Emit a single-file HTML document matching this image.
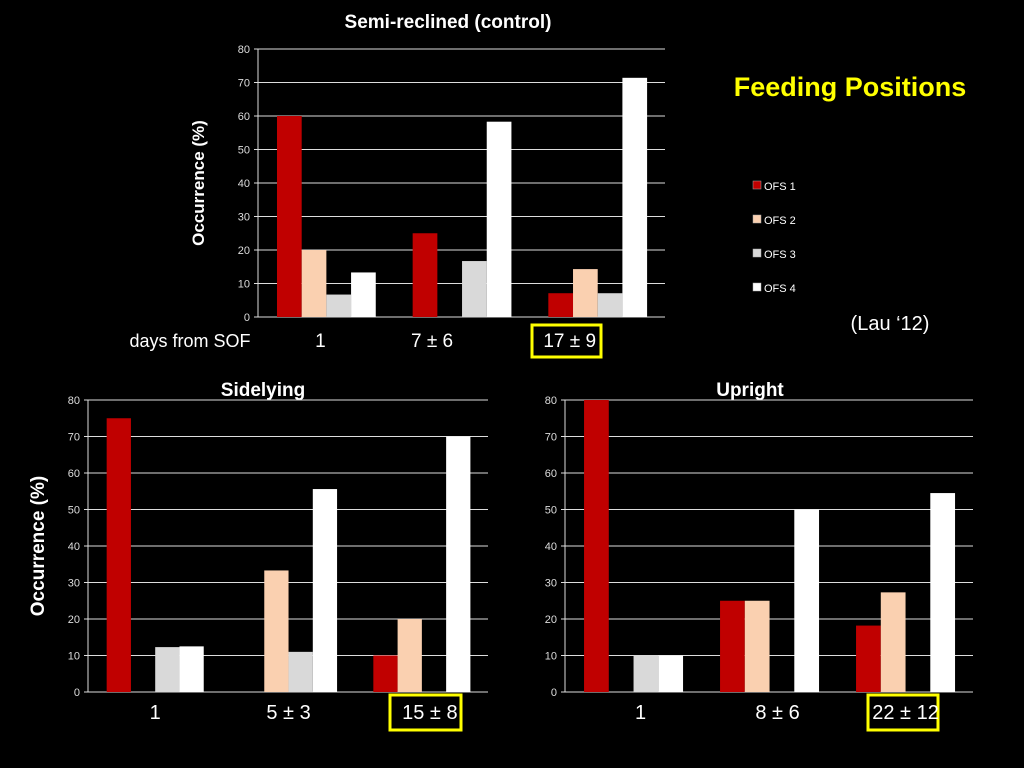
<!DOCTYPE html>
<html><head><meta charset="utf-8"><style>
html,body{margin:0;padding:0;background:#000;}
svg{display:block;font-family:"Liberation Sans",sans-serif;}
</style></head><body>
<svg id="s" width="1024" height="768" viewBox="0 0 1024 768">
<rect width="1024" height="768" fill="#000"/>
<text x="448" y="28" fill="#fff" font-size="19" font-weight="bold" text-anchor="middle">Semi-reclined (control)</text>
<text x="263" y="396" fill="#fff" font-size="19" font-weight="bold" text-anchor="middle">Sidelying</text>
<text x="750" y="396" fill="#fff" font-size="19" font-weight="bold" text-anchor="middle">Upright</text>
<text x="850" y="96" fill="#ffff00" font-size="27" font-weight="bold" text-anchor="middle">Feeding Positions</text>
<text x="890" y="330" fill="#fff" font-size="20" text-anchor="middle">(Lau ‘12)</text>
<text x="204" y="183" fill="#fff" font-size="17" font-weight="bold" text-anchor="middle" transform="rotate(-90 204 183)">Occurrence (%)</text>
<text x="44" y="546" fill="#fff" font-size="19" font-weight="bold" text-anchor="middle" transform="rotate(-90 44 546)">Occurrence (%)</text>
<text x="190" y="347" fill="#fff" font-size="18" text-anchor="middle">days  from SOF</text>
<rect x="532" y="325" width="69" height="32" fill="none" stroke="#ffff00" stroke-width="3"/>
<rect x="390" y="695" width="71" height="35" fill="none" stroke="#ffff00" stroke-width="3"/>
<rect x="868" y="695" width="70" height="35" fill="none" stroke="#ffff00" stroke-width="3"/>
<g id="legend"></g>
</svg>
<script>
const series = ["OFS  1","OFS 2","OFS 3","OFS  4"];
const colors = ["#c00000","#fad0b0","#d9d9d9","#ffffff"];
const yTicks = [0,10,20,30,40,50,60,70,80];
const topCats = ["1","7 ± 6","17 ± 9"];
const topVals = [[60,20,6.7,13.3],[25,0,16.7,58.3],[7.1,14.3,7.1,71.4]];
const sideCats = ["1","5 ± 3","15 ± 8"];
const sideVals = [[75,0,12.3,12.5],[0,33.3,11,55.6],[10,20,0,70]];
const upCats = ["1","8 ± 6","22 ± 12"];
const upVals = [[80,0,10,10],[25,25,0,50],[18.2,27.3,0,54.5]];

const NS="http://www.w3.org/2000/svg";
const svg=document.getElementById('s');
function mk(tag,attrs,parent){const e=document.createElementNS(NS,tag);for(const k in attrs)e.setAttribute(k,attrs[k]);(parent||svg).appendChild(e);return e;}

function chart(name,x0,x1,yB,yT,cats,vals,catFs,catY,labelDx){
  const g=mk('g',{});
  
  
  const y=v=>yB-(v/80)*(yB-yT);
  yTicks.forEach(t=>{
    const l=mk('line',{x1:x0-4,x2:x1,y1:y(t),y2:y(t),stroke:'#ddd','stroke-width':1},g);
    
    
    const tx=mk('text',{x:x0-8,y:y(t)+4,fill:'#ddd','font-size':11,'text-anchor':'end'},g);
    tx.textContent=t;
    
    
  });
  const ax=mk('line',{x1:x0,x2:x0,y1:yT,y2:yB,stroke:'#ddd','stroke-width':1},g);
  
  
  const gw=(x1-x0)/cats.length, bw=gw*0.182, off=gw*0.14;
  cats.forEach((c,i)=>{
    vals[i].forEach((v,j)=>{
      if(v<=0)return;
      const r=mk('rect',{x:x0+i*gw+off+j*bw,y:y(v),width:bw,height:yB-y(v),fill:colors[j]},g);
      
      
    });
    const t=mk('text',{x:x0+i*gw+off+2*bw+labelDx[i],y:catY,fill:'#fff','font-size':catFs,'text-anchor':'middle'},g);
    t.textContent=c;
    
    
  });
}
chart('top-chart',258,665,317,49,topCats,topVals,19,347,[-6,-30,-28]);
chart('sidelying-chart',88,488,692,400,sideCats,sideVals,20,719,[0,0,8]);
chart('upright-chart',565,973,692,400,upCats,upVals,20,719,[7,8,0]);

const lg=document.getElementById('legend');
series.forEach((s,i)=>{
  const yy=186+i*34;
  const r=mk('rect',{x:753,y:yy-5,width:8,height:8,fill:colors[i],stroke:'#aaa','stroke-width':0.5},lg);
  
  
  const t=mk('text',{x:764,y:yy+4,fill:'#fff','font-size':11},lg);
  t.textContent=s;
  
  
});
</script>
</body></html>
